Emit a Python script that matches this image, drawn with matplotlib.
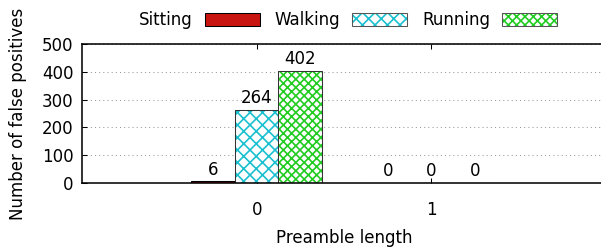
import numpy as np
import matplotlib.pyplot as plt
from matplotlib.patches import Patch
from matplotlib.legend_handler import HandlerTuple

# Data
preamble = ["0", "1"]
series = ["Sitting", "Walking", "Running"]
sitting = [6, 0]
walking = [264, 0]
running = [402, 0]

plt.rcParams['font.family'] = ['DejaVu Sans']
plt.rcParams['hatch.linewidth'] = 1.6

fig = plt.figure(figsize=(601 / 75, 250 / 75), dpi=75)
ax = fig.add_axes([82 / 601, 67 / 250, 524 / 601, 139 / 250])

x = np.arange(len(preamble))
width = 0.25
fs = 16

# Sitting: solid red
ax.bar(x - width, sitting, width, color='#c8150f', edgecolor='black', linewidth=1)

# Walking and Running: hatched, drawn with a separate outline
ax.bar(x, walking, width, color='white', edgecolor='#1ac0d0', hatch='xx', linewidth=0)
ax.bar(x, walking, width, fill=False, edgecolor='#333333', linewidth=1)
ax.bar(x + width, running, width, color='white', edgecolor='#22cc22', hatch='xxx', linewidth=0)
ax.bar(x + width, running, width, fill=False, edgecolor='#333333', linewidth=1)

# Value labels above the bars
for offset, vals in zip([-width, 0, width], [sitting, walking, running]):
    for xi, v in zip(x, vals):
        ax.text(xi + offset, v + 10, str(v), ha='center', va='bottom', fontsize=fs)

ax.set_xlim(-1, 2)
ax.set_ylim(0, 500)
ax.set_xticks(x)
ax.set_xticklabels(preamble)
ax.set_yticks(np.arange(0, 501, 100))
ax.tick_params(direction='in', length=5, width=1, labelsize=fs, top=True, right=True)
ax.tick_params(axis='x', pad=17)
ax.tick_params(axis='y', pad=8)
ax.yaxis.grid(True, linestyle=(0, (1, 3)), color='#999999', linewidth=1)
ax.set_axisbelow(True)
for s in ax.spines.values():
    s.set_linewidth(1.5)

ax.set_xlabel("Preamble length", fontsize=fs, labelpad=10)
ax.set_ylabel("Number of false positives", fontsize=fs, labelpad=14)

# Legend along the top, text before the sample like gnuplot
h_sit = Patch(facecolor='#c8150f', edgecolor='black')
h_walk = (Patch(facecolor='white', edgecolor='#1ac0d0', hatch='xx', linewidth=0),
          Patch(fill=False, edgecolor='#555555'))
h_run = (Patch(facecolor='white', edgecolor='#22cc22', hatch='xxx', linewidth=0),
         Patch(fill=False, edgecolor='#555555'))
fig.legend([h_sit, h_walk, h_run], series, ncol=3, loc='center',
           bbox_to_anchor=(348 / 601, 1 - 20 / 250), frameon=False, markerfirst=False,
           fontsize=fs, handlelength=3.3, handleheight=0.8, handletextpad=0.7,
           columnspacing=0.9, handler_map={tuple: HandlerTuple(ndivide=1, pad=0)})

fig.savefig("out.png", dpi=75)
